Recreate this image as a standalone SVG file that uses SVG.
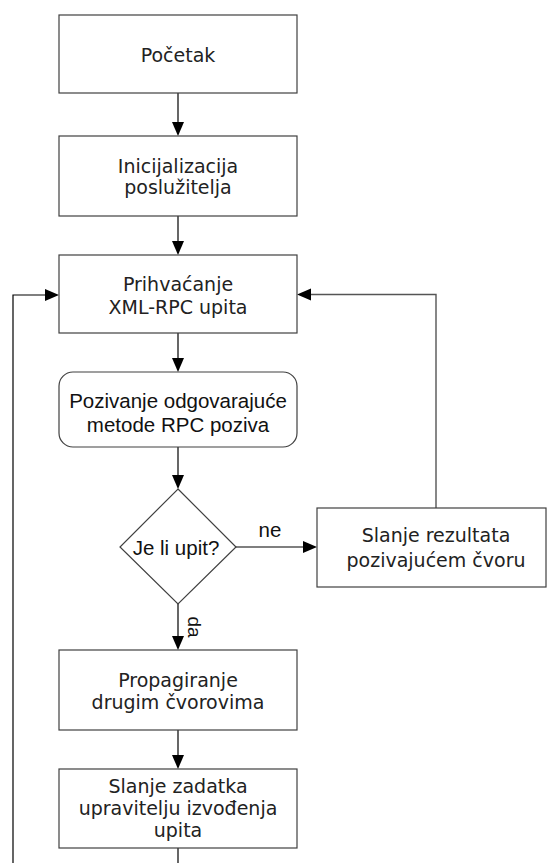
<svg xmlns="http://www.w3.org/2000/svg" width="547" height="863" viewBox="0 0 547 863">
<style>
.box{fill:#fff;stroke:#404040;stroke-width:1.2}
.t1{font-family:"DejaVu Sans",sans-serif;font-size:19px;fill:#222;text-anchor:middle}
.t2{font-family:"Liberation Sans",Arial,sans-serif;font-size:20.5px;fill:#111;text-anchor:middle}
.c{fill:none;stroke:#000;stroke-width:1.2}
.cg{fill:none;stroke:#555;stroke-width:1.4}
.ah{fill:#000}
</style>
<rect width="547" height="863" fill="#fff"/>
<g id="connectors">
<line class="c" x1="178" y1="93" x2="178" y2="124"/>
<polygon class="ah" points="172,122 184,122 178,136"/>
<line class="c" x1="178" y1="216" x2="178" y2="243"/>
<polygon class="ah" points="172,241 184,241 178,255"/>
<line class="c" x1="178" y1="333" x2="178" y2="360"/>
<polygon class="ah" points="172,358 184,358 178,372"/>
<line class="c" x1="178" y1="447" x2="178" y2="477"/>
<polygon class="ah" points="172,475 184,475 178,489"/>
<line class="c" x1="236" y1="547" x2="305" y2="547"/>
<polygon class="ah" points="303,541 303,553 317,547"/>
<polyline class="cg" points="436,508 436,294.5 310,294.5"/>
<polygon class="ah" points="311,288.5 311,300.5 297,294.5"/>
<line class="c" x1="178" y1="604" x2="178" y2="638"/>
<polygon class="ah" points="172,636 184,636 178,650"/>
<line class="c" x1="178" y1="730" x2="178" y2="757"/>
<polygon class="ah" points="172,755 184,755 178,769"/>
<line class="c" x1="178" y1="848" x2="178" y2="863"/>
<polyline class="c" points="13,863 13,295 47,295"/>
<polygon class="ah" points="45,289 45,301 59,295"/>
<text class="t2" x="270" y="537">ne</text>
<text class="t2" transform="translate(188,627) rotate(90)" style="font-size:19px">da</text>
</g>
<g id="n1"><rect class="box" x="59" y="15" width="238" height="78"/><text class="t1" x="178" y="62">Početak</text></g>
<g id="n2"><rect class="box" x="59" y="136" width="238" height="80"/><text class="t1" x="178" y="173">Inicijalizacija</text><text class="t1" x="178" y="194">poslužitelja</text></g>
<g id="n3"><rect class="box" x="59" y="255" width="238" height="78"/><text class="t1" x="178" y="291">Prihvaćanje</text><text class="t1" x="178" y="314">XML-RPC upita</text></g>
<g id="n4"><rect class="box" x="59" y="372" width="238" height="75" rx="14" ry="14"/><text class="t2" x="178" y="408">Pozivanje odgovarajuće</text><text class="t2" x="178" y="432">metode RPC poziva</text></g>
<g id="n5"><polygon class="box" points="178,489 236,547 178,604 120,547"/><text class="t2" x="176" y="555">Je li upit?</text></g>
<g id="n6"><rect class="box" x="317" y="508" width="229" height="79"/><text class="t1" x="436" y="542">Slanje rezultata</text><text class="t1" x="436" y="567">pozivajućem čvoru</text></g>
<g id="n7"><rect class="box" x="59" y="650" width="238" height="80"/><text class="t1" x="178" y="687">Propagiranje</text><text class="t1" x="178" y="709">drugim čvorovima</text></g>
<g id="n8"><rect class="box" x="59" y="769" width="238" height="79"/><text class="t1" x="178" y="793">Slanje zadatka</text><text class="t1" x="178" y="815">upravitelju izvođenja</text><text class="t1" x="178" y="837">upita</text></g>
</svg>
